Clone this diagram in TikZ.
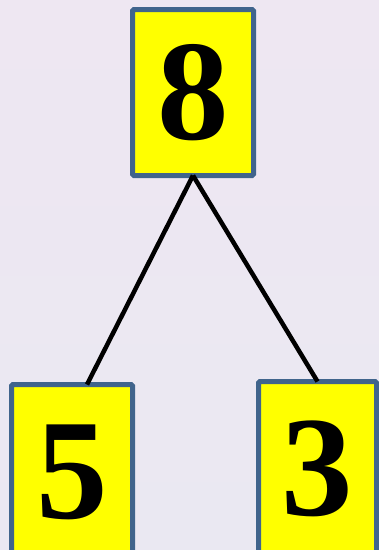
\documentclass[tikz,border=0pt]{standalone}
\usepackage{fontspec}
\setmainfont{Liberation Serif}
\definecolor{bgtop}{RGB}{238,231,242}
\definecolor{bgbot}{RGB}{234,232,242}
\definecolor{boxborder}{RGB}{64,100,140}
\definecolor{boxfill}{RGB}{255,255,0}
\begin{document}
\begin{tikzpicture}[x=1pt,y=-1pt,
  numbox/.style={draw=boxborder, line width=5pt, fill=boxfill, rounded corners=1.5pt,
    inner sep=0pt, font=\fontsize{143}{143}\selectfont\bfseries, text=black},
  link/.style={line width=4.5pt, draw=black}]
\useasboundingbox (0,0) rectangle (379,550);
\clip (0,0) rectangle (379,550);
\shade[top color=bgtop, bottom color=bgbot] (0,0) rectangle (379,550);
\node[numbox, minimum width=121pt, minimum height=166pt] (top) at (193,92.5) {8};
\node[numbox, minimum width=121pt, minimum height=175pt] (left) at (72,472) {5};
\node[numbox, minimum width=118pt, minimum height=175pt] (right) at (317.5,469) {3};
\draw[link] ([yshift=2.5pt]top.south) -- ([xshift=15pt,yshift=-2.5pt]left.north);
\draw[link] ([yshift=2.5pt]top.south) -- ([yshift=-2.5pt]right.north);
\end{tikzpicture}
\end{document}
